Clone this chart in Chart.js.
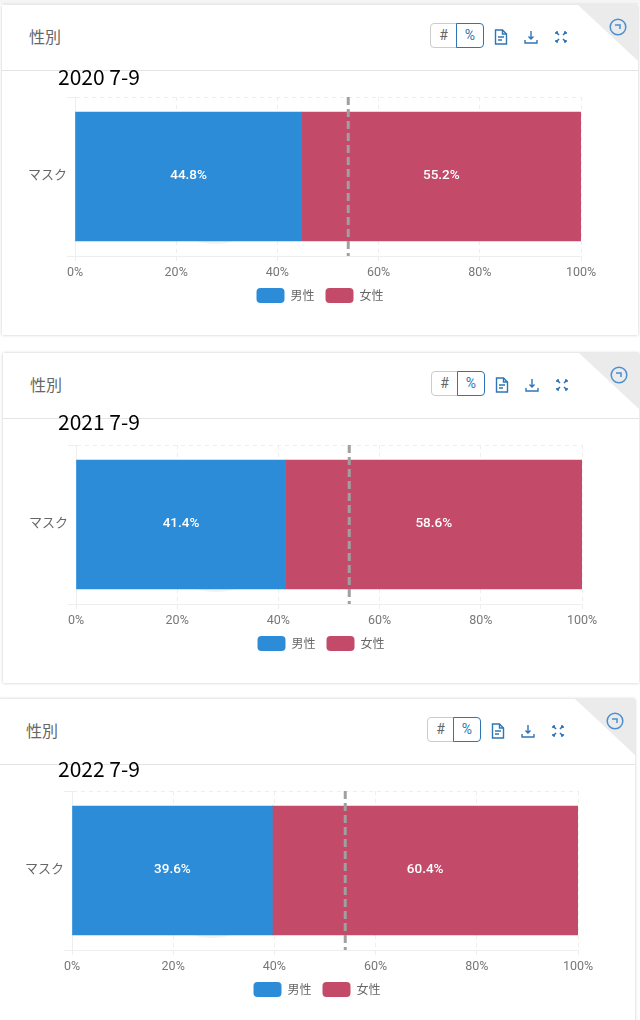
<!DOCTYPE html>
<html>
<head>
<meta charset="utf-8">
<script src="https://cdn.jsdelivr.net/npm/chart.js@4"></script>
<style>
html, body { margin: 0; padding: 0; background: #fff; }
body { position: relative; width: 640px; height: 1020px; overflow: hidden; font-family: "Noto Sans CJK JP", sans-serif; }
#strip { position: absolute; left: 0; top: 0; width: 640px; height: 4px; background: #f5f5f5; }
.card { position: absolute; width: 636px; height: 330px; background: #fff; box-shadow: 0 0 3px rgba(0,0,0,.22); }
.corner { position: absolute; right: 0; top: 0; width: 60px; height: 56px; background: #ebebeb; clip-path: polygon(0 0, 100% 0, 100% 100%); }
.ring { position: absolute; left: 607px; top: 12px; }
.head { position: absolute; left: 0; top: 65px; width: 100%; height: 1px; background: #e4e4e4; }
.title { position: absolute; left: 27px; top: 19px; font-size: 16px; line-height: 24px; color: #666; }
.toggle { position: absolute; left: 428px; top: 18px; width: 54px; height: 25px; }
.toggle span { position: absolute; top: 0; height: 23px; line-height: 23px; text-align: center; font: 14px/23px Roboto, sans-serif; box-sizing: content-box; }
.hash { left: 0; width: 25px; border: 1px solid #ccc; border-radius: 4px 0 0 4px; color: #666; }
.pct { left: 26px; width: 26px; border: 1px solid #2f75b5; border-radius: 0 4px 4px 0; color: #2f75b5; }
.icon { position: absolute; top: 21px; }
.period { position: absolute; font-size: 21px; line-height: 28px; color: #000; z-index: 3; }
.ghost { position: absolute; width: 120px; height: 120px; border-radius: 50%; background: #f3f3f3; }
canvas { position: absolute; z-index: 2; }
</style>
</head>
<body>
<div id="strip"></div>
<script>
const periods = ['2020 7-9', '2021 7-9', '2022 7-9']
const categories = ['マスク']
const seriesNames = ['男性', '女性']
const maleValues = [44.8, 41.4, 39.6]
const femaleValues = [55.2, 58.6, 60.4]
const averageLine = [54, 54, 54]
const seriesColors = ['#2d8cd8', '#c34b69']

const cardX = [2, 3, -1]
const cardY = [5, 353, 699]
const periodY = [62, 407, 754]

// value labels inside the bars and the dashed average line
const barExtras = {
    id: 'barExtras',
    afterDatasetsDraw(chart, args, opts) {
        const ctx = chart.ctx
        ctx.save()
        ctx.font = '500 13.5px Roboto, sans-serif'
        ctx.fillStyle = '#fff'
        ctx.textAlign = 'center'
        ctx.textBaseline = 'middle'
        chart.data.datasets.forEach((ds, d) => {
            const bar = chart.getDatasetMeta(d).data[0]
            const p = bar.getProps(['x', 'y', 'base'], true)
            ctx.fillText(ds.data[0].toFixed(1) + '%', (p.x + p.base) / 2, p.y - 1)
        })
        const x = chart.scales.x.getPixelForValue(opts.average)
        ctx.strokeStyle = '#a0a0a0'
        ctx.lineWidth = 3
        ctx.setLineDash([8, 4])
        ctx.beginPath()
        ctx.moveTo(x, chart.chartArea.top)
        ctx.lineTo(x, chart.chartArea.bottom)
        ctx.stroke()
        ctx.restore()
    }
}

function addEl(parent, cls, html) {
    const el = document.createElement('div')
    el.className = cls
    if (html) el.innerHTML = html
    parent.appendChild(el)
    return el
}

const docIcon = '<svg width="14" height="16" viewBox="0 0 14 16" fill="none" stroke="#2f75b5" stroke-width="1.4"><path d="M1.5 1h7l4 4v10h-11z"/><path d="M8.5 1v4h4M4 8h6M4 11h4"/></svg>'
const downIcon = '<svg width="14" height="16" viewBox="0 0 14 16" fill="none" stroke="#2f75b5" stroke-width="1.4"><path d="M7 2v8M4.5 7.5L7 10l2.5-2.5M1 11v3h12v-3"/></svg>'
const fullIcon = '<svg width="14" height="16" viewBox="0 0 14 16" fill="none" stroke="#2f75b5" stroke-width="1.6"><path d="M2 3l3 3M12 3L9 6M2 13l3-3M12 13l-3-3M2 3h2M2 3v2M12 3h-2M12 3v2M2 13h2M2 13v-2M12 13h-2M12 13v-2"/></svg>'
const ringIcon = '<svg width="18" height="18" viewBox="0 0 18 18" fill="none" stroke="#4a8fd0" stroke-width="1.5"><circle cx="9" cy="9" r="7.8"/><path d="M6 7h5v4"/></svg>'

periods.forEach((period, n) => {
    const card = addEl(document.body, 'card')
    card.style.left = cardX[n] + 'px'
    card.style.top = cardY[n] + 'px'
    addEl(card, 'corner')
    addEl(card, 'ring', ringIcon)
    addEl(card, 'head')
    addEl(card, 'title', '性別')
    addEl(card, 'toggle', '<span class="hash">#</span><span class="pct">%</span>')
    addEl(card, 'icon', docIcon).style.left = '492px'
    addEl(card, 'icon', downIcon).style.left = '522px'
    addEl(card, 'icon', fullIcon).style.left = '552px'

    const ghost = addEl(document.body, 'ghost')
    ghost.style.left = (cardX[n] + 153) + 'px'
    ghost.style.top = (cardY[n] + 119) + 'px'

    const label = addEl(document.body, 'period', period)
    label.style.left = '58px'
    label.style.top = periodY[n] + 'px'

    const canvas = document.createElement('canvas')
    canvas.style.left = (cardX[n] - 2) + 'px'
    canvas.style.top = (cardY[n] + 65) + 'px'
    document.body.appendChild(canvas)
    canvas.width = 640
    canvas.height = 250
    canvas.style.width = '640px'
    canvas.style.height = '250px'

    new Chart(canvas.getContext('2d'), {
        type: 'bar',
        plugins: [barExtras],
        data: {
            labels: categories,
            datasets: [
                { label: seriesNames[0], data: [maleValues[n]], backgroundColor: seriesColors[0], barThickness: 129 },
                { label: seriesNames[1], data: [femaleValues[n]], backgroundColor: seriesColors[1], barThickness: 129 }
            ]
        },
        options: {
            indexAxis: 'y',
            responsive: false,
            animation: false,
            devicePixelRatio: 1,
            layout: { padding: { top: 27, bottom: 7 } },
            scales: {
                x: {
                    stacked: true,
                    min: 0,
                    max: 100,
                    ticks: {
                        stepSize: 20,
                        color: '#777',
                        font: { family: 'Roboto', size: 12.5 },
                        maxRotation: 0,
                        callback: v => v + '%'
                    },
                    grid: { color: '#eee', tickLength: 6, tickBorderDash: [4, 4] },
                    border: { dash: [4, 4], color: '#eee' },
                    afterFit(scale) {
                        scale.paddingRight = 59
                        scale.height -= 6
                    }
                },
                y: {
                    stacked: true,
                    ticks: {
                        color: '#666',
                        padding: 0,
                        labelOffset: -2,
                        font: { family: 'Noto Sans CJK JP', size: 13 }
                    },
                    grid: { color: '#eee' },
                    border: { color: '#eee', dash: [4, 4] },
                    afterFit(scale) {
                        scale.width = 75
                    }
                }
            },
            plugins: {
                tooltip: { enabled: false },
                barExtras: { average: averageLine[n] },
                legend: {
                    position: 'bottom',
                    labels: {
                        boxWidth: 28,
                        boxHeight: 15,
                        useBorderRadius: true,
                        borderRadius: 4,
                        padding: 11,
                        color: '#666',
                        font: { family: 'Noto Sans CJK JP', size: 12 }
                    }
                }
            }
        }
    })
})
</script>
</body>
</html>
